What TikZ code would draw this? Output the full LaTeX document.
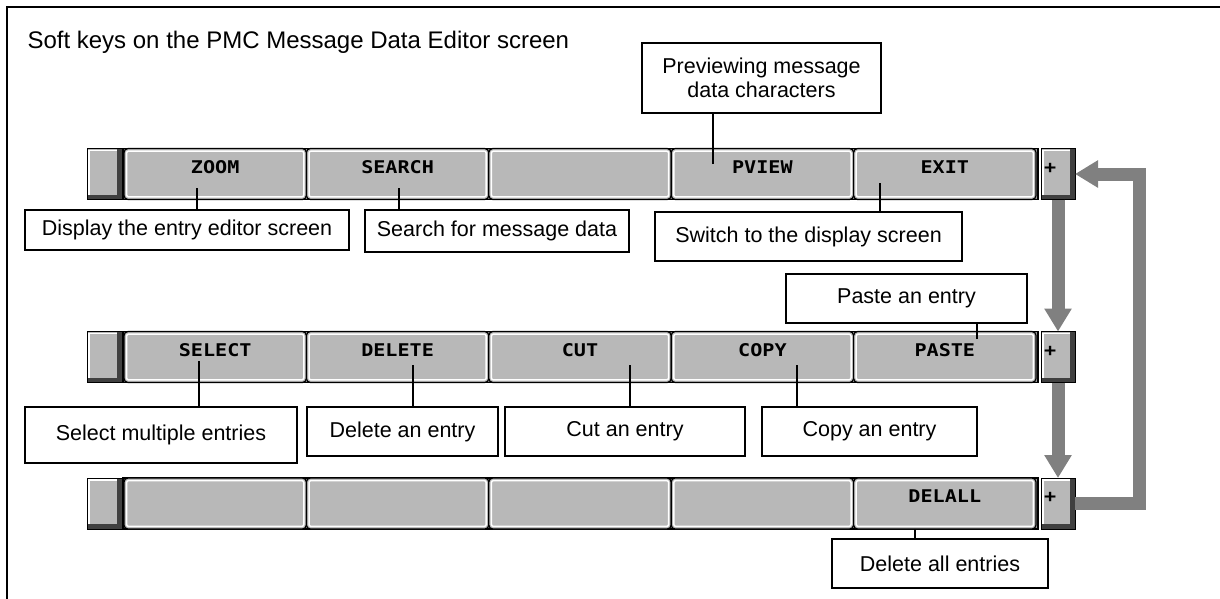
\documentclass[tikz,border=0pt]{standalone}
\usepackage{fontspec}
\setmainfont{Liberation Sans}
\newfontfamily\keyfont{DejaVu Sans Mono}[FakeStretch=1.15]
\usetikzlibrary{arrows.meta}

\definecolor{keygrey}{RGB}{184,184,184}
\definecolor{bargrey}{RGB}{150,150,150}
\definecolor{shadowgrey}{RGB}{64,64,64}
\definecolor{flowgrey}{RGB}{128,128,128}

\newcommand\boxfont{\fontsize{21.5}{24}\selectfont}
\newcommand\titlefont{\fontsize{24}{28}\selectfont}

\tikzset{
  keybar/.style={rectangle, draw=black, line width=1.2pt, fill=bargrey,
    minimum width=915pt, minimum height=51pt, inner sep=0pt, outer sep=0pt},
  softkey/.style={rectangle, rounded corners=4pt, draw=black, line width=1.2pt,
    fill=keygrey, minimum width=182.4pt, minimum height=51pt, inner sep=0pt,
    outer sep=0pt, font=\keyfont\bfseries\fontsize{17.5}{20}\selectfont,
    text height=12pt, text depth=14pt,
    path picture={\draw[white, line width=1.5pt, rounded corners=2pt]
      ([shift={(2.6pt,-2.6pt)}]path picture bounding box.north west) rectangle
      ([shift={(-2.6pt,2.6pt)}]path picture bounding box.south east);}},
  raisedkey/.style={rectangle, draw=black, line width=1pt, fill=shadowgrey,
    minimum height=51pt, inner sep=0pt, outer sep=0pt,
    font=\keyfont\bfseries\fontsize{17.5}{20}\selectfont,
    text height=12pt, text depth=14pt,
    path picture={
      \fill[keygrey] (path picture bounding box.north west) rectangle
        ([shift={(-5pt,5pt)}]path picture bounding box.south east);
      \draw[white, line width=1.5pt]
        ([shift={(2pt,5pt)}]path picture bounding box.south west) --
        ([shift={(2pt,-2pt)}]path picture bounding box.north west) --
        ([shift={(-5pt,-2pt)}]path picture bounding box.north east);}},
  callout/.style={rectangle, draw=black, line width=1.3pt, fill=white,
    inner sep=0pt, outer sep=0pt, font=\boxfont, align=center},
  leader/.style={line width=1.5pt},
  flow/.style={draw=flowgrey, line width=13pt, line join=miter,
    -{Triangle[width=26pt,length=23pt]}}
}

\begin{document}
\begin{tikzpicture}[x=1pt,y=-1pt]
\useasboundingbox (0,0) rectangle (1220,598);

\draw[line width=2pt] (7,620) -- (7,7) -- (1240,7);
\node[anchor=base west, font=\titlefont] (title) at (24,48) {Soft keys on the PMC Message Data Editor screen};

% first row
\node[keybar] (bar1) at (580.5,174) {};
\node[raisedkey, minimum width=35pt] (side1) at (104.5,174) {};
\foreach \k/\t [count=\i from 0] in {zoom/ZOOM,search/SEARCH,blankA/,pview/PVIEW,exit/EXIT}
  \node[softkey] (\k) at (215.2+182.4*\i,174) {\t};
\node[raisedkey, minimum width=34pt] (plus1) at (1058,174) {\makebox[28pt][l]{+}};

% second row
\node[keybar] (bar2) at (580.5,357) {};
\node[raisedkey, minimum width=35pt] (side2) at (104.5,357) {};
\foreach \k/\t [count=\i from 0] in {select/SELECT,delete/DELETE,cut/CUT,copy/COPY,paste/PASTE}
  \node[softkey] (\k) at (215.2+182.4*\i,357) {\t};
\node[raisedkey, minimum width=34pt] (plus2) at (1058,357) {\makebox[28pt][l]{+}};

% third row
\node[keybar] (bar3) at (580.5,503.5) {};
\node[raisedkey, minimum width=35pt] (side3) at (104.5,503.5) {};
\foreach \k/\t [count=\i from 0] in {blankB/,blankC/,blankD/,blankE/,delall/DELALL}
  \node[softkey] (\k) at (215.2+182.4*\i,503.5) {\t};
\node[raisedkey, minimum width=34pt] (plus3) at (1058,503.5) {\makebox[28pt][l]{+}};

% callouts
\node[callout, minimum width=239pt, minimum height=70pt] (previewbox) at (761.5,78) {Previewing message\\data characters};
\node[callout, minimum width=324pt, minimum height=40pt] (displaybox) at (187,230) {Display the entry editor screen};
\node[callout, minimum width=264pt, minimum height=42pt] (searchbox) at (497,231) {Search for message data};
\node[callout, minimum width=307pt, minimum height=49pt] (switchbox) at (808.5,236.5) {Switch to the display screen};
\node[callout, minimum width=241pt, minimum height=49pt] (pastebox) at (906.5,298.5) {Paste an entry};
\node[callout, minimum width=272pt, minimum height=56pt] (selectbox) at (161,435) {Select multiple entries};
\node[callout, minimum width=191pt, minimum height=49pt] (deletebox) at (402.5,431.5) {Delete an entry};
\node[callout, minimum width=240pt, minimum height=49pt] (cutbox) at (625,431.5) {Cut an entry};
\node[callout, minimum width=215pt, minimum height=49pt] (copybox) at (869.5,431.5) {Copy an entry};
\node[callout, minimum width=216pt, minimum height=49pt] (delallbox) at (940,563.5) {Delete all entries};

\coordinate (pviewtip) at (713,164);
\coordinate (zoomtip) at (197,188);
\coordinate (searchtip) at (399,188);
\coordinate (exittip) at (880,183);
\coordinate (pastetip) at (977,339);
\coordinate (selecttip) at (199,361);
\coordinate (deletetip) at (413,365);
\coordinate (cuttip) at (630,365);
\coordinate (copytip) at (797,365);
\coordinate (delalltip) at (915,529);

\draw[leader] (pviewtip) -- (pviewtip |- previewbox.south);
\draw[leader] (zoomtip) -- (zoomtip |- displaybox.north);
\draw[leader] (searchtip) -- (searchtip |- searchbox.north);
\draw[leader] (exittip) -- (exittip |- switchbox.north);
\draw[leader] (pastetip) -- (pastetip |- pastebox.south);
\draw[leader] (selecttip) -- (selecttip |- selectbox.north);
\draw[leader] (deletetip) -- (deletetip |- deletebox.north);
\draw[leader] (cuttip) -- (cuttip |- cutbox.north);
\draw[leader] (copytip) -- (copytip |- copybox.north);
\draw[leader] (delalltip) -- (delalltip |- delallbox.north);

% page arrows
\coordinate (loopturn) at (1139.5,330);
\draw[flow] (plus1.south) -- (plus2.north);
\draw[flow] (plus2.south) -- (plus3.north);
\draw[flow] (plus3.east) -| (loopturn) |- (plus1.east);
\end{tikzpicture}
\end{document}
